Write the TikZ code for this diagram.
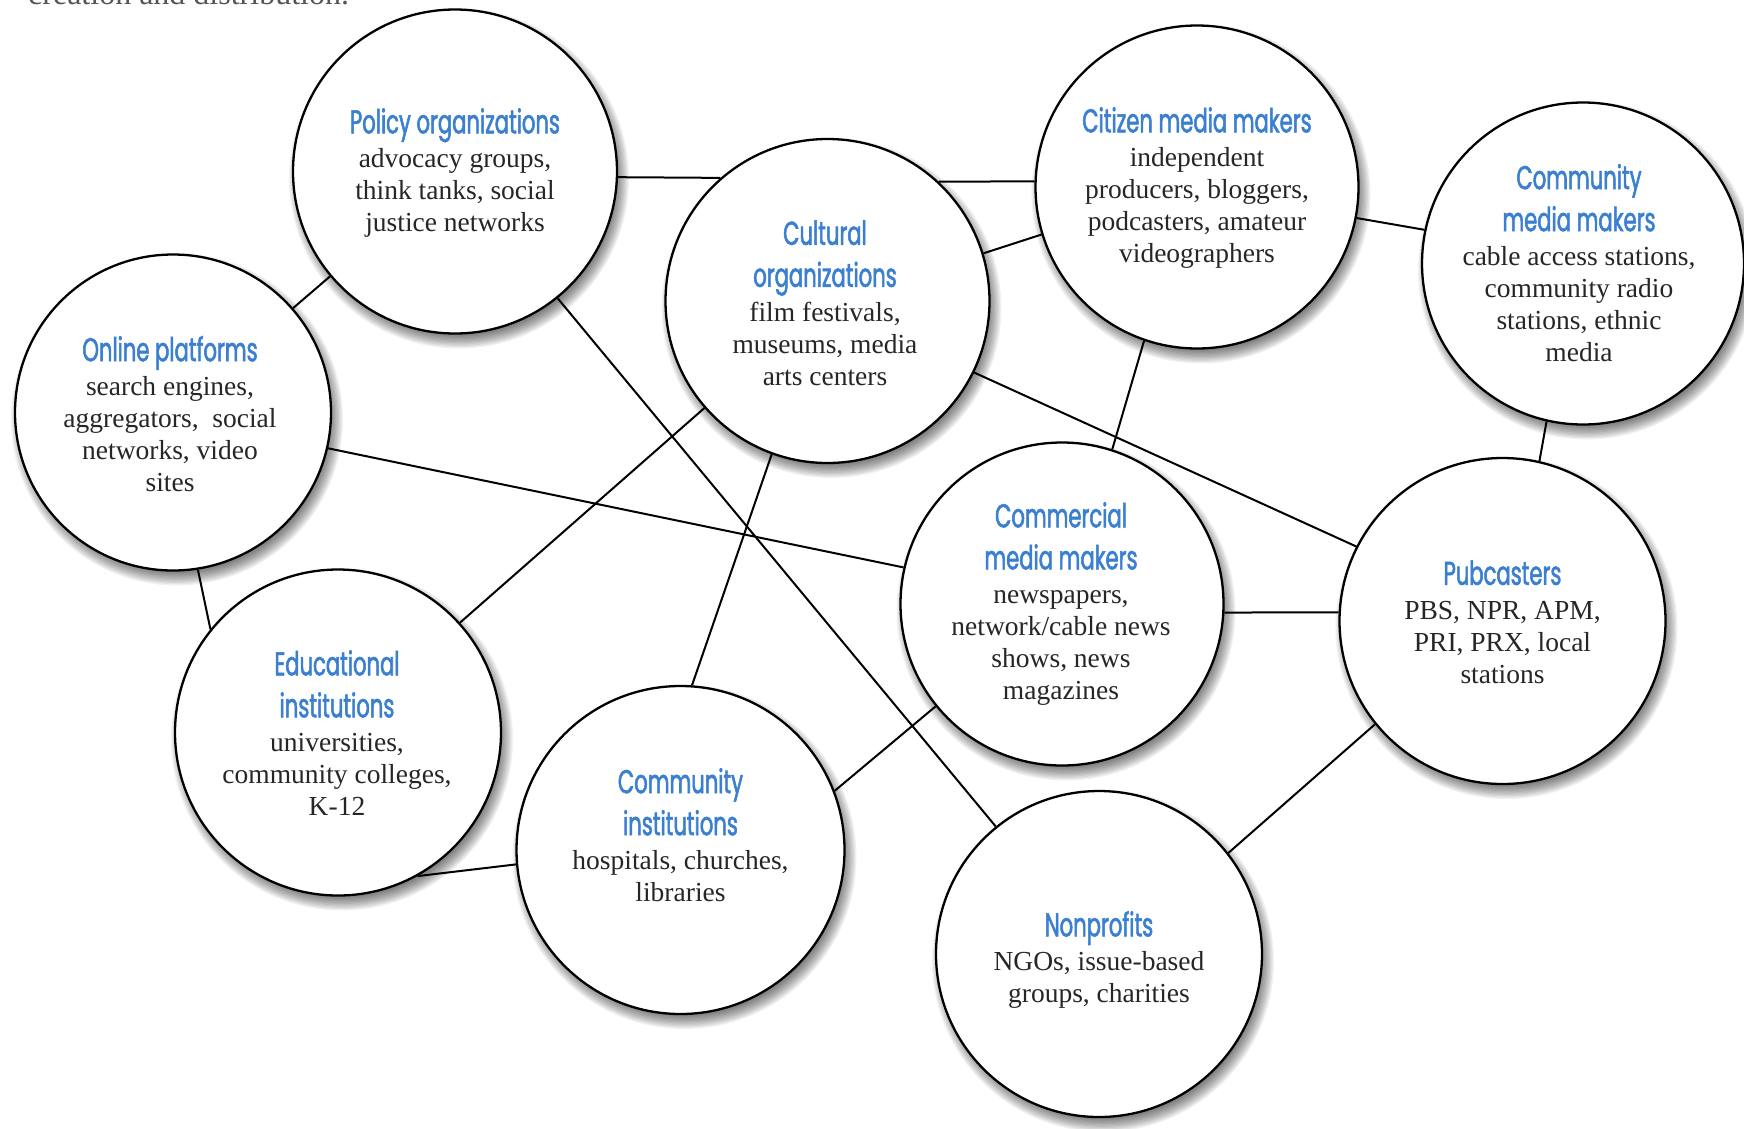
\documentclass[tikz,border=0pt]{standalone}
\usepackage{fontspec}
\setmainfont{Liberation Serif}
\newfontfamily\ttlfont[FakeStretch=0.64,FakeBold=1.6]{Poppins}
\usetikzlibrary{calc}
\definecolor{ttlblue}{HTML}{3A7FD0}
\definecolor{bodygray}{HTML}{262626}
\definecolor{headgray}{HTML}{555555}
\pgfdeclarelayer{paperlayer}
\pgfdeclarelayer{linklayer}
\pgfdeclarelayer{shadowlayer}
\pgfsetlayers{paperlayer,linklayer,shadowlayer,main}
\newcommand{\ttl}[1]{{\ttlfont\fontsize{33}{42}\selectfont\color{ttlblue}#1}}
\newcommand{\bodyfnt}{\fontsize{27.5}{32}\selectfont\lineskiplimit=-100pt\relax}
\newcommand{\bshadow}[2]{\foreach \k in {0,...,10}{\fill[black,opacity=0.055] ($(#1)+(4,7)$) circle ({#2-5+1.3*\k});}}
\tikzset{
  bubble/.style={circle, draw=black, line width=2.3pt, fill=white, inner sep=0pt, minimum size=#1},
  lbl/.style={align=center, inner sep=0pt, text=bodygray, font={\bodyfnt}},
  link/.style={draw=black, line width=2pt},
  headtext/.style={anchor=base west, inner sep=0pt, text=headgray, font={\fontsize{32}{38}\selectfont}},
}
\begin{document}
\begin{tikzpicture}[x=1pt,y=-1pt]
\useasboundingbox (0,0) rectangle (1744,1128);
\clip (0,0) rectangle (1744,1128);
\begin{pgfonlayer}{paperlayer}
\fill[white] (0,0) rectangle (1744,1128);
\end{pgfonlayer}
\node[headtext] (head) at (28,4.5) {creation and distribution.};

% circles
\node[bubble=324pt] (policy) at (455,171.5) {};
\node[bubble=316pt] (online) at (173,412.5) {};
\node[bubble=324pt] (cultural) at (827.5,301) {};
\node[bubble=323pt] (citizen) at (1197,187) {};
\node[bubble=322pt] (commmedia) at (1583,263.5) {};
\node[bubble=323pt] (commercial) at (1062,604) {};
\node[bubble=326pt] (pub) at (1502.5,621) {};
\node[bubble=326pt] (edu) at (338,732.5) {};
\node[bubble=328pt] (comminst) at (680.5,850) {};
\node[bubble=326pt] (nonprofit) at (1099,954) {};

% shadows
\begin{pgfonlayer}{shadowlayer}
\bshadow{policy}{162}
\bshadow{online}{158}
\bshadow{cultural}{162}
\bshadow{citizen}{161.5}
\bshadow{commmedia}{161}
\bshadow{commercial}{161.5}
\bshadow{pub}{163}
\bshadow{edu}{163}
\bshadow{comminst}{164}
\bshadow{nonprofit}{163}
\end{pgfonlayer}

% connectors
\begin{pgfonlayer}{linklayer}
\draw[link] (policy.220.8) -- (online.41.1);
\draw[link] (policy.358.9) -- (cultural.131.4);
\draw[link] (policy.309.5) -- (nonprofit.129);
\draw[link] (online.279.4) -- (edu.141.1);
\draw[link] (online.347.4) -- (commercial.167.5);
\draw[link] (cultural.47.5) -- (citizen.178.7);
\draw[link] (cultural.17.2) -- (citizen.197.4);
\draw[link] (cultural.221.3) -- (edu.42);
\draw[link] (cultural.250.3) -- (comminst.86.4);
\draw[link] (cultural.334.1) -- (pub.153.8);
\draw[link] (citizen.251.5) -- (commercial.72);
\draw[link] (citizen.349) -- (commmedia.168.4);
\draw[link] (commmedia.257) -- (pub.77.6);
\draw[link] (commercial.357.9) -- (pub.177.3);
\draw[link] (commercial.219.3) -- (comminst.21.4);
\draw[link] (edu.299.7) -- (comminst.185.6);
\draw[link] (pub.219.7) -- (nonprofit.38.6);
\end{pgfonlayer}

% texts
\node[lbl] (policy-t) at (455,173) {\ttl{Policy organizations}\\[2.5pt] advocacy groups,\\ think tanks, social\\ justice networks};
\node[lbl] (online-t) at (170,414) {\ttl{Online platforms}\\[2.5pt] search engines,\\ aggregators,\ \ social\\ networks, video\\ sites};
\node[lbl] (cultural-t) at (825,303) {\ttl{Cultural}\\[10pt] \ttl{organizations}\\[2.5pt] film festivals,\\ museums, media\\ arts centers};
\node[lbl] (citizen-t) at (1197,188) {\ttl{Citizen media makers}\\[2.5pt] independent\\ producers, bloggers,\\ podcasters, amateur\\ videographers};
\node[lbl] (commmedia-t) at (1579,263) {\ttl{Community}\\[10pt] \ttl{media makers}\\[2.5pt] cable access stations,\\ community radio\\ stations, ethnic\\ media};
\node[lbl] (commercial-t) at (1061,604) {\ttl{Commercial}\\[10pt] \ttl{media makers}\\[2.5pt] newspapers,\\ network/cable news\\ shows, news\\ magazines};
\node[lbl] (pub-t) at (1502.5,622) {\ttl{Pubcasters}\\[2.5pt] PBS, NPR, APM,\\ PRI, PRX, local\\ stations};
\node[lbl] (edu-t) at (337,733) {\ttl{Educational}\\[10pt] \ttl{institutions}\\[2.5pt] universities,\\ community colleges,\\ K-12};
\node[lbl] (comminst-t) at (680.5,835) {\ttl{Community}\\[10pt] \ttl{institutions}\\[2.5pt] hospitals, churches,\\ libraries};
\node[lbl] (nonprofit-t) at (1099,960) {\ttl{Nonprofits}\\[2.5pt] NGOs, issue-based\\ groups, charities};
\end{tikzpicture}
\end{document}
